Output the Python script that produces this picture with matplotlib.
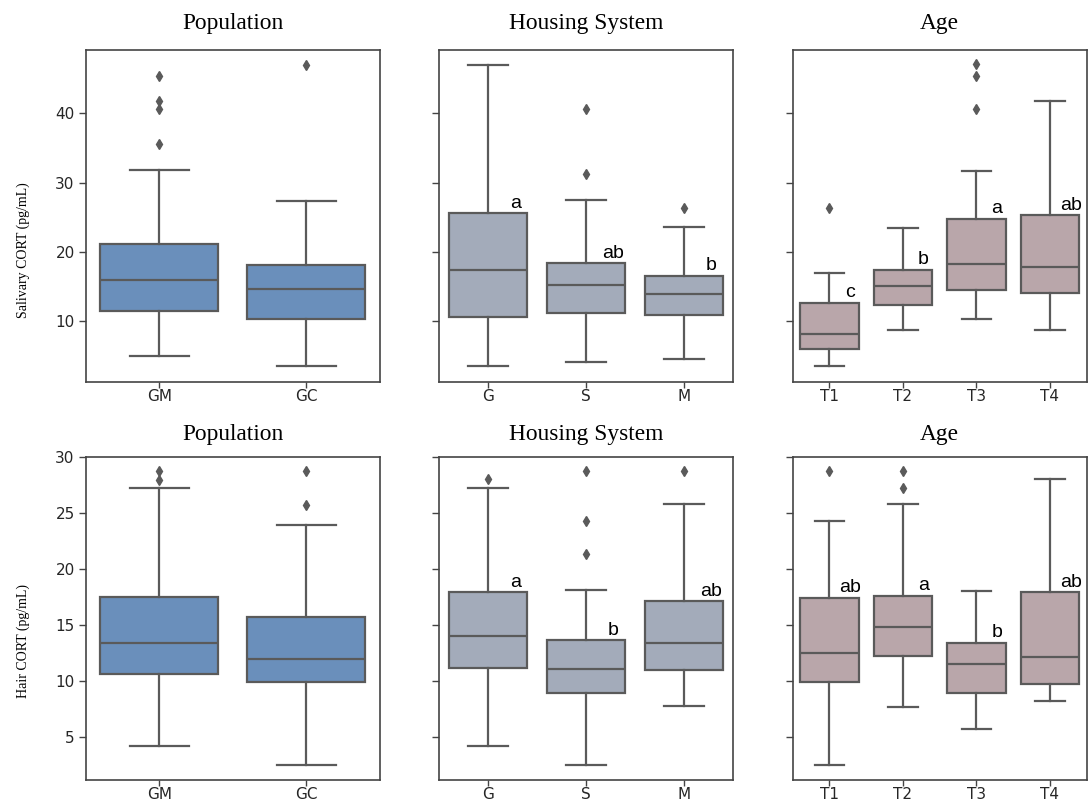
import matplotlib
matplotlib.use("Agg")
import matplotlib.pyplot as plt

# --- data ---
pop_labels = ["GM", "GC"]
house_labels = ["G", "S", "M"]
age_labels = ["T1", "T2", "T3", "T4"]

# salivary CORT: whislo, q1, med, q3, whishi
sal_pop = [[5.0, 11.5, 15.9, 21.1, 31.8], [3.5, 10.4, 14.6, 18.1, 27.3]]
sal_pop_fliers = [[45.3, 41.7, 40.6, 35.6], [46.9]]
sal_house = [[3.5, 10.7, 17.4, 25.6, 46.9], [4.1, 11.2, 15.3, 18.4, 27.5],
             [4.6, 10.9, 14.0, 16.6, 23.6]]
sal_house_fliers = [[], [40.6, 31.2], [26.3]]
sal_age = [[3.5, 6.0, 8.2, 12.7, 17.0], [8.8, 12.35, 15.1, 17.4, 23.5],
           [10.4, 14.5, 18.25, 24.8, 31.7], [8.75, 14.1, 17.8, 25.3, 41.7]]
sal_age_fliers = [[26.3], [], [47.1, 45.4, 40.6], []]

# hair CORT
hair_pop = [[4.2, 10.6, 13.4, 17.5, 27.2], [2.55, 9.9, 12.0, 15.7, 23.9]]
hair_pop_fliers = [[28.7, 27.95], [28.7, 25.7]]
hair_house = [[4.2, 11.2, 14.0, 17.9, 27.2], [2.55, 8.95, 11.05, 13.65, 18.1],
              [7.75, 11.0, 13.4, 17.1, 25.8]]
hair_house_fliers = [[28.0], [28.7, 24.3, 21.3], [28.7]]
hair_age = [[2.55, 9.95, 12.5, 17.45, 24.3], [7.65, 12.2, 14.85, 17.6, 25.8],
            [5.7, 8.95, 11.5, 13.4, 18.0], [8.2, 9.75, 12.1, 17.9, 28.0]]
hair_age_fliers = [[28.7], [28.7, 27.25], [], []]

sal_house_letters = ["a", "ab", "b"]
sal_age_letters = ["c", "b", "a", "ab"]
hair_house_letters = ["a", "b", "ab"]
hair_age_letters = ["ab", "a", "b", "ab"]

col_pop = "#6a8fbb"
col_house = "#a3abba"
col_age = "#b9a6aa"
line_col = "#5a5a5a"

fig = plt.figure(figsize=(10.91, 8.05), dpi=100)

lefts = [0.0786, 0.4024, 0.7266]
w = 0.2695
row_pos = [(0.5258, 0.412), (0.0315, 0.401)]

panels = [
    [(pop_labels, sal_pop, sal_pop_fliers, col_pop, None, "Population"),
     (house_labels, sal_house, sal_house_fliers, col_house, sal_house_letters, "Housing System"),
     (age_labels, sal_age, sal_age_fliers, col_age, sal_age_letters, "Age")],
    [(pop_labels, hair_pop, hair_pop_fliers, col_pop, None, "Population"),
     (house_labels, hair_house, hair_house_fliers, col_house, hair_house_letters, "Housing System"),
     (age_labels, hair_age, hair_age_fliers, col_age, hair_age_letters, "Age")],
]
ylabels = ["Salivary CORT (pg/mL)", "Hair CORT (pg/mL)"]
ylabel_y = [0.397, 0.43]
ylims = [(1.3, 49.1), (1.2, 30.0)]
title_pads = [15, 12]

for r, row in enumerate(panels):
    bottom, h = row_pos[r]
    first = None
    for c, (labels, stats, fliers, color, letters, title) in enumerate(row):
        ax = fig.add_axes([lefts[c], bottom, w, h], sharey=first)
        if first is None:
            first = ax
        bxp_stats = []
        for lab, s, f in zip(labels, stats, fliers):
            bxp_stats.append(dict(label=lab, whislo=s[0], q1=s[1], med=s[2],
                                  q3=s[3], whishi=s[4], fliers=f))
        ax.bxp(bxp_stats, positions=range(len(labels)), widths=0.8,
               patch_artist=True, manage_ticks=False,
               boxprops=dict(facecolor=color, edgecolor=line_col, linewidth=1.6),
               medianprops=dict(color=line_col, linewidth=1.6),
               whiskerprops=dict(color=line_col, linewidth=1.6),
               capprops=dict(color=line_col, linewidth=1.6),
               flierprops=dict(marker="d", markerfacecolor=line_col,
                               markeredgecolor=line_col, markersize=5.5))
        ax.set_xlim(-0.5, len(labels) - 0.5)
        ax.set_xticks(range(len(labels)))
        ax.set_xticklabels(labels)
        ax.set_ylim(*ylims[r])
        ax.set_title(title, family="Liberation Serif", fontsize=16.8, pad=title_pads[r])
        for sp in ax.spines.values():
            sp.set_color("#444444")
            sp.set_linewidth(1.2)
        ax.tick_params(labelsize=11, length=5, width=1.0, color="#444444",
                       labelcolor="#262626", pad=3)
        ax.tick_params(axis="x", length=4, pad=1.5)
        if c == 0:
            ax.set_ylabel(ylabels[r], family="Liberation Serif", fontsize=10)
            ax.yaxis.set_label_coords(-0.19, ylabel_y[r])
        else:
            ax.tick_params(labelleft=False)
        if letters:
            for i, (txt, s) in enumerate(zip(letters, stats)):
                ax.annotate(txt, (i + 0.28, s[3]), xytext=(0, 4),
                            textcoords="offset points", ha="center", va="baseline",
                            family="Liberation Sans", fontsize=14, color="black")

fig.savefig("out.png", dpi=100)
